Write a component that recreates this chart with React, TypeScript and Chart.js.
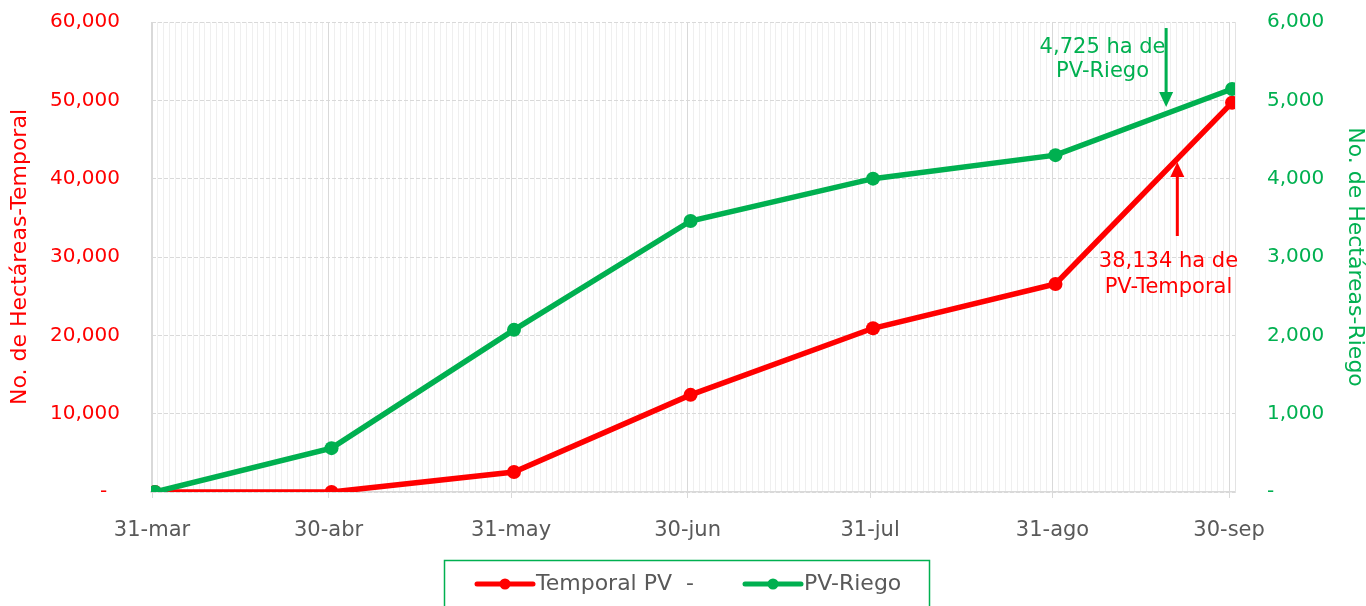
import React, { useEffect, useRef } from "react";
import { Chart, registerables } from "chart.js";

Chart.register(...registerables);

const categories = ["31-mar", "30-abr", "31-may", "30-jun", "31-jul", "31-ago", "30-sep"];
const dayOffsets = [0, 30, 61, 91, 122, 153, 183];
const temporalPV = [0, 0, 2550, 12400, 20900, 26550, 49700];
const riegoPV = [0, 560, 2070, 3460, 4000, 4300, 5145];
const leftTicks = [0, 10000, 20000, 30000, 40000, 50000, 60000];
const rightTicks = [0, 1000, 2000, 3000, 4000, 5000, 6000];

const seriesNames = ["Temporal PV  -", "PV-Riego"];
const RED = "#ff0000";
const GREEN = "#00b050";
const GRAY_TEXT = "#595959";
const FONT = "'DejaVu Sans', sans-serif";

// annotations in data units: [day, value]
const riegoNote = { lines: ["4,725 ha de", "PV-Riego"], day: 161.5, values: [5668, 5362] };
const riegoArrow = { day: 172.3, from: 5923, to: 4915 };
const tempNote = { lines: ["38,134 ha de", "PV-Temporal"], day: 172.7, values: [29362, 26043] };
const tempArrow = { day: 174.2, from: 32680, to: 42128 };

const fmt = (v: number) => (v === 0 ? "-" : v.toLocaleString("en-US"));

const CANVAS_H = 628;
const SHIFT = 22;

export default function App() {
  const ref = useRef<HTMLCanvasElement>(null);
  useEffect(() => {
    if (!ref.current) return;
    const majorSet = new Set(dayOffsets);
    const allDays: number[] = [];
    for (let d = 0; d <= 184; d++) allDays.push(d);

    const annotPlugin = {
      id: "annot",
      afterDatasetsDraw(chart: any) {
        const ctx = chart.ctx;
        const x = chart.scales.x;
        const yL = chart.scales.yL;
        const yR = chart.scales.yR;
        ctx.save();
        ctx.font = `21px ${FONT}`;
        ctx.textAlign = "center";
        ctx.textBaseline = "middle";
        ctx.fillStyle = GREEN;
        riegoNote.lines.forEach((t, i) => ctx.fillText(t, x.getPixelForValue(riegoNote.day), yR.getPixelForValue(riegoNote.values[i])));
        ctx.fillStyle = RED;
        tempNote.lines.forEach((t, i) => ctx.fillText(t, x.getPixelForValue(tempNote.day), yL.getPixelForValue(tempNote.values[i])));
        const arrow = (px: number, y0: number, y1: number, color: string) => {
          const dir = Math.sign(y1 - y0);
          ctx.strokeStyle = color;
          ctx.fillStyle = color;
          ctx.lineWidth = 3;
          ctx.beginPath();
          ctx.moveTo(px, y0);
          ctx.lineTo(px, y1 - dir * 12);
          ctx.stroke();
          ctx.beginPath();
          ctx.moveTo(px, y1);
          ctx.lineTo(px - 7, y1 - dir * 15);
          ctx.lineTo(px + 7, y1 - dir * 15);
          ctx.closePath();
          ctx.fill();
        };
        arrow(x.getPixelForValue(riegoArrow.day), yR.getPixelForValue(riegoArrow.from), yR.getPixelForValue(riegoArrow.to), GREEN);
        arrow(x.getPixelForValue(tempArrow.day), yL.getPixelForValue(tempArrow.from), yL.getPixelForValue(tempArrow.to), RED);
        ctx.restore();
      },
      afterDraw(chart: any) {
        const ctx = chart.ctx;
        ctx.save();
        ctx.strokeStyle = GREEN;
        ctx.lineWidth = 1.5;
        ctx.strokeRect(444.5, 560.5 + SHIFT, 485, 60);
        const items = [
          { color: RED, x0: 477, text: seriesNames[0] },
          { color: GREEN, x0: 745, text: seriesNames[1] },
        ];
        const yy = 584 + SHIFT;
        items.forEach((it) => {
          ctx.strokeStyle = it.color;
          ctx.lineWidth = 5;
          ctx.lineCap = "round";
          ctx.beginPath();
          ctx.moveTo(it.x0, yy);
          ctx.lineTo(it.x0 + 56, yy);
          ctx.stroke();
          ctx.fillStyle = it.color;
          ctx.beginPath();
          ctx.arc(it.x0 + 28, yy, 5.5, 0, Math.PI * 2);
          ctx.fill();
          ctx.fillStyle = GRAY_TEXT;
          ctx.font = `22px ${FONT}`;
          ctx.textAlign = "left";
          ctx.textBaseline = "middle";
          ctx.fillText(it.text, it.x0 + 59, yy);
        });
        ctx.restore();
      },
    };

    const chart = new Chart(ref.current, {
      type: "line",
      data: {
        datasets: [
          {
            label: seriesNames[0],
            data: dayOffsets.map((d, i) => ({ x: d + 0.5, y: temporalPV[i] })),
            borderColor: RED,
            backgroundColor: RED,
            borderWidth: 5.5,
            pointRadius: 7,
            pointHoverRadius: 7,
            pointBorderWidth: 0,
            yAxisID: "yL",
            order: 0,
          },
          {
            label: seriesNames[1],
            data: dayOffsets.map((d, i) => ({ x: d + 0.5, y: riegoPV[i] })),
            borderColor: GREEN,
            backgroundColor: GREEN,
            borderWidth: 5.5,
            pointRadius: 7,
            pointHoverRadius: 7,
            pointBorderWidth: 0,
            yAxisID: "yR",
            order: -1,
          },
        ],
      },
      options: {
        responsive: false,
        animation: false,
        events: [],
        layout: { padding: { top: 2, left: 0, right: 0, bottom: 0 } },
        plugins: { legend: { display: false }, tooltip: { enabled: false } },
        scales: {
          x: {
            type: "linear",
            min: -0.17,
            max: 184,
            afterFit: (s: any) => { s.height = 114; },
            afterBuildTicks: (s: any) => { s.ticks = allDays.map((v) => ({ value: v })); },
            ticks: {
              autoSkip: false,
              maxRotation: 0,
              minRotation: 0,
              padding: 20,
              color: GRAY_TEXT,
              font: { family: FONT, size: 21 },
              callback: (v: any) => {
                const i = dayOffsets.indexOf(Number(v));
                return i >= 0 ? categories[i] : "";
              },
            },
            grid: {
              color: (c: any) => (c.tick && majorSet.has(c.tick.value) ? "#d9d9d9" : c.tick && c.tick.value === 184 ? "#e3e3e3" : "#efefef"),
              lineWidth: 1,
              tickLength: 6,
              tickColor: (c: any) => (c.tick && majorSet.has(c.tick.value) ? "#d9d9d9" : "rgba(0,0,0,0)"),
            },
            border: { color: "#d9d9d9", width: 1.5 },
          },
          yL: {
            position: "left",
            min: 0,
            max: 60000,
            afterFit: (s: any) => { s.width = 151; },
            afterBuildTicks: (s: any) => { s.ticks = leftTicks.map((v) => ({ value: v })); },
            ticks: {
              padding: 31,
              color: RED,
              font: { family: FONT, size: 20 },
              callback: (v: any) => (Number(v) === 0 ? "-  " : fmt(Number(v))),
            },
            grid: { color: "#d9d9d9", drawTicks: false, lineWidth: 1 },
            border: { color: "#d9d9d9", dash: [4, 2] },
            title: {
              display: true,
              text: "No. de Hectáreas-Temporal",
              color: RED,
              font: { family: FONT, size: 22, lineHeight: 1 },
              padding: { top: 9, bottom: 0 },
            },
          },
          yR: {
            position: "right",
            min: 0,
            max: 6000,
            afterFit: (s: any) => { s.width = 131; },
            afterBuildTicks: (s: any) => { s.ticks = rightTicks.map((v) => ({ value: v })); },
            ticks: {
              padding: 32,
              color: GREEN,
              font: { family: FONT, size: 20 },
              callback: (v: any) => fmt(Number(v)),
            },
            grid: { drawOnChartArea: false, drawTicks: false },
            border: { color: "#e3e3e3" },
            title: {
              display: true,
              text: "No. de Hectáreas-Riego",
              color: GREEN,
              font: { family: FONT, size: 22, lineHeight: 1 },
              padding: { top: 0, bottom: 0 },
            },
          },
        },
      },
      plugins: [annotPlugin],
    } as any);
    return () => chart.destroy();
  }, []);

  return (
    <div style={{ position: "absolute", left: 0, top: 0, width: 1366, height: 606, overflow: "hidden", background: "#fff" }}>
      <canvas ref={ref} width={1366} height={CANVAS_H} style={{ display: "block", marginTop: -SHIFT }} />
    </div>
  );
}
